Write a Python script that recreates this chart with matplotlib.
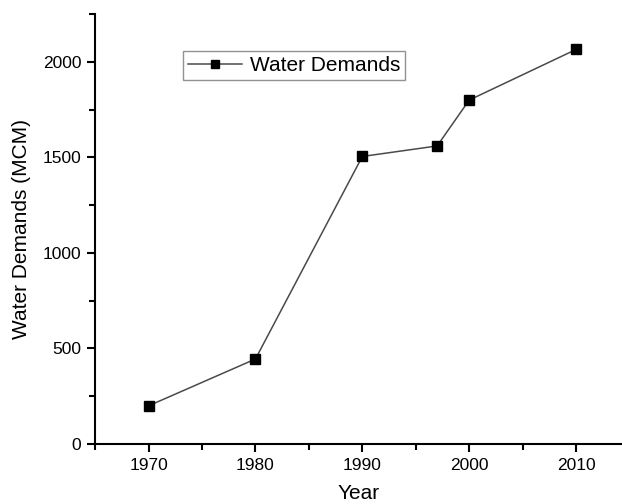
import matplotlib
matplotlib.use("Agg")
import matplotlib.pyplot as plt
from matplotlib.ticker import MultipleLocator

plt.rcParams['font.family'] = ['Liberation Sans', 'DejaVu Sans']

years = [1970, 1980, 1990, 1997, 2000, 2010]
demands = [200, 445, 1505, 1560, 1800, 2065]
series_label = "Water Demands"
x_label = "Year"
y_label = "Water Demands (MCM)"

fig = plt.figure(figsize=(6.22, 5.04), dpi=100)
ax = fig.add_axes([0.153, 0.119, 0.847, 0.853])

ax.plot(years, demands, color="#4a4a4a", linewidth=1.1, marker="s",
        markersize=7, markerfacecolor="black", markeredgecolor="black",
        label=series_label)

ax.set_xlim(1965, 2014.3)
ax.set_ylim(0, 2250)
ax.xaxis.set_major_locator(MultipleLocator(10))
ax.xaxis.set_minor_locator(MultipleLocator(5))
ax.yaxis.set_major_locator(MultipleLocator(500))
ax.yaxis.set_minor_locator(MultipleLocator(250))

for side in ("top", "right"):
    ax.spines[side].set_visible(False)
for side in ("left", "bottom"):
    ax.spines[side].set_linewidth(1.5)

ax.tick_params(which="major", direction="out", length=6, width=1.5,
               labelsize=12.5, pad=4)
ax.tick_params(which="minor", direction="out", length=4, width=1.5)

ax.set_xlabel(x_label, fontsize=15, labelpad=8)
ax.set_ylabel(y_label, fontsize=15, labelpad=8)

leg = ax.legend(loc="upper left", bbox_to_anchor=(183 / 622, 1 - 51 / 504),
                bbox_transform=fig.transFigure, borderaxespad=0,
                fontsize=15, markerscale=0.8,
                frameon=True, fancybox=False, edgecolor="#777777",
                handlelength=2.6, borderpad=0.25, handletextpad=0.35)
leg.get_frame().set_linewidth(1.0)

fig.savefig("out.png", dpi=100)
